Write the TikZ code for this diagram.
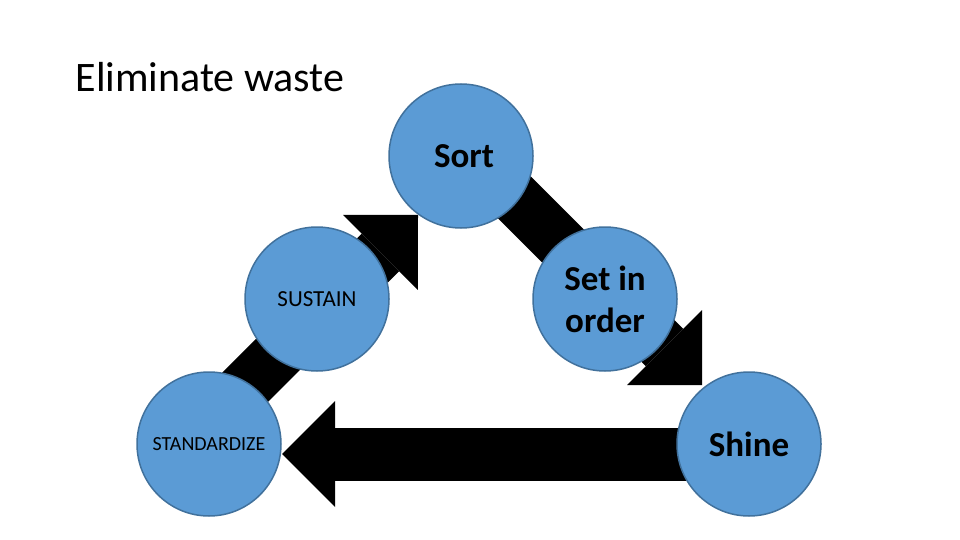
\documentclass[tikz,border=0pt]{standalone}
\usepackage{fontspec}
\setmainfont{Carlito}
\usetikzlibrary{arrows.meta,backgrounds,calc}
\definecolor{stepblue}{HTML}{5B9BD5}
\definecolor{stepline}{HTML}{41719C}
\begin{document}
\begin{tikzpicture}[x=1pt,y=-1pt,
  stage/.style={circle,draw=stepline,line width=1.5pt,fill=stepblue,minimum size=144pt,inner sep=0pt,text=black,align=center},
  bigtext/.style={font=\fontsize{35}{42}\selectfont\bfseries},
  bigarrow/.style={line width=53pt,-{Triangle[length=53pt,width=106pt,line width=0pt]}}]
\useasboundingbox (0,0) rectangle (960,540);
\node[anchor=base west,font=\fontsize{42}{50}\selectfont] (title) at (72,92) {Eliminate waste};
\node[stage,bigtext] (sort) at (461,156) {\hspace*{6pt}Sort};
\node[stage,bigtext] (set) at (605,299) {Set in\\order};
\node[stage,bigtext] (shine) at (749,444) {Shine};
\node[stage,font=\fontsize{23}{27}\selectfont] (sustain) at (317,299) {SUSTAIN};
\node[stage,font=\fontsize{20}{24}\selectfont] (standardize) at (209,444) {STANDARDIZE};
\begin{scope}[on background layer]
  \coordinate (t1) at (702,385);
  \coordinate (t2) at (282,454);
  \coordinate (t3) at (418,215);
  \draw[bigarrow] ([shift={(6,-6)}]sort.center) -- (t1);
  \draw[bigarrow] (t2 -| shine.center) -- (t2);
  \draw[bigarrow] ([shift={(-21,0)}]standardize.center) -- (t3);
\end{scope}
\end{tikzpicture}
\end{document}
